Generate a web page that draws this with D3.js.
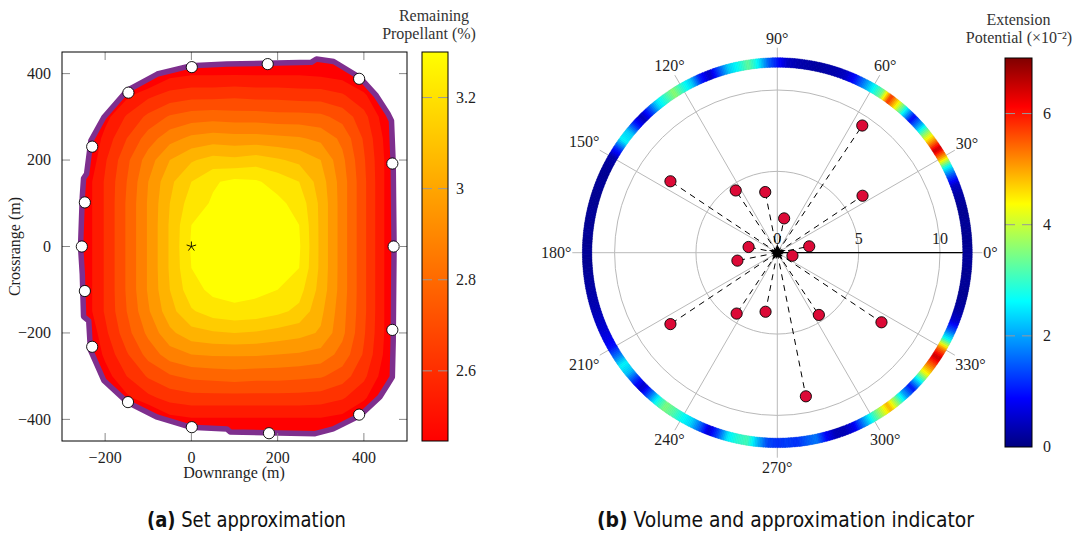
<!DOCTYPE html>
<html>
<head>
<meta charset="utf-8">
<script src="https://cdn.jsdelivr.net/npm/d3@7"></script>
<style>
  html, body { margin: 0; padding: 0; background: #fff; }
  svg { display: block; }
  text { font-family: "Liberation Serif", "Times New Roman", serif; fill: #1e1e1e; }
  .cap { font-family: "Liberation Sans Narrow", "DejaVu Sans Condensed", "Liberation Sans", sans-serif; fill: #111; }
</style>
</head>
<body>
<svg id="fig" width="1086" height="535"></svg>
<script>
// ---------------- panel (a): reachable set, remaining propellant ----------------
const gridX = [-300, -250, -200, -150, -100, -50, 0, 50, 100, 150, 200, 250, 300, 350, 400, 450, 500];
const gridY = [450, 400, 350, 300, 250, 200, 150, 100, 50, 0, -50, -100, -150, -200, -250, -300, -350, -400, -450];
// remaining propellant (%) on the grid, one row per gridY value
const propellant = [
  [2.40,2.40,2.40,2.40,2.40,2.40,2.40,2.40,2.40,2.40,2.40,2.40,2.40,2.40,2.40,2.40,2.40],
  [2.40,2.40,2.40,2.40,2.40,2.50,2.52,2.52,2.52,2.52,2.52,2.52,2.51,2.49,2.40,2.40,2.40],
  [2.40,2.40,2.40,2.51,2.59,2.64,2.66,2.66,2.67,2.66,2.66,2.65,2.65,2.62,2.55,2.40,2.40],
  [2.40,2.40,2.50,2.62,2.71,2.78,2.81,2.82,2.81,2.81,2.80,2.80,2.79,2.74,2.64,2.48,2.40],
  [2.40,2.40,2.56,2.69,2.81,2.90,2.95,2.97,2.96,2.96,2.95,2.94,2.91,2.83,2.68,2.51,2.40],
  [2.40,2.42,2.60,2.75,2.89,3.01,3.08,3.12,3.11,3.13,3.10,3.07,3.01,2.87,2.70,2.52,2.40],
  [2.40,2.47,2.62,2.77,2.93,3.07,3.17,3.24,3.27,3.26,3.22,3.17,3.05,2.89,2.71,2.52,2.40],
  [2.40,2.47,2.62,2.78,2.94,3.09,3.21,3.26,3.29,3.29,3.27,3.22,3.07,2.89,2.71,2.52,2.40],
  [2.40,2.47,2.62,2.78,2.94,3.10,3.25,3.29,3.30,3.30,3.29,3.25,3.07,2.89,2.71,2.52,2.40],
  [2.40,2.47,2.62,2.78,2.94,3.10,3.26,3.29,3.30,3.30,3.29,3.26,3.07,2.89,2.71,2.52,2.40],
  [2.40,2.47,2.62,2.78,2.94,3.10,3.25,3.29,3.30,3.30,3.28,3.25,3.07,2.89,2.71,2.52,2.40],
  [2.40,2.47,2.62,2.78,2.94,3.09,3.22,3.27,3.28,3.27,3.25,3.20,3.06,2.89,2.71,2.52,2.40],
  [2.40,2.47,2.62,2.77,2.92,3.06,3.16,3.21,3.23,3.22,3.19,3.15,3.03,2.88,2.71,2.52,2.40],
  [2.40,2.42,2.59,2.74,2.87,2.99,3.06,3.08,3.09,3.08,3.06,3.04,3.00,2.87,2.70,2.52,2.40],
  [2.40,2.40,2.55,2.68,2.80,2.89,2.93,2.94,2.94,2.94,2.93,2.92,2.90,2.82,2.68,2.51,2.40],
  [2.40,2.40,2.49,2.61,2.70,2.76,2.79,2.80,2.81,2.80,2.80,2.79,2.78,2.73,2.63,2.48,2.40],
  [2.40,2.40,2.40,2.51,2.59,2.64,2.66,2.66,2.66,2.66,2.66,2.66,2.65,2.62,2.55,2.40,2.40],
  [2.40,2.40,2.40,2.40,2.40,2.50,2.52,2.52,2.52,2.52,2.52,2.52,2.52,2.50,2.40,2.40,2.40],
  [2.40,2.40,2.40,2.40,2.40,2.40,2.40,2.40,2.40,2.40,2.40,2.40,2.40,2.40,2.40,2.40,2.40]
];
const propLevels = [2.45, 2.53, 2.61, 2.69, 2.77, 2.85, 2.93, 3.01, 3.09, 3.17, 3.25];
// boundary of the reachable set (downrange, crossrange) in metres
const reachBoundary = [
  [-257,0],[-253,114],[-250,158],[-243,168],[-233,245],[-203,299],[-149,361],[-79,399],
  [-2,418],[82,422],[278,426],[290,434],[330,428],[391,391],[429,349],[456,307],[464,291],
  [468,191],[470,0],[468,-217],[466,-302],[456,-318],[437,-348],[391,-391],[329,-422],
  [287,-433],[90,-429],[82,-422],[-2,-418],[-79,-395],[-149,-360],[-203,-310],[-234,-240],
  [-238,-172],[-250,-162],[-253,-63]
];
// vertices of the set approximation
const approxX = [1, 177, 389, 466, 469, 466, 389, 180, 1, -147, -230, -247, -254, -247, -230, -146];
const approxY = [415, 422, 388, 192, 0, -193, -389, -432, -418, -360, -232, -103, 0, 102, 231, 356];
const nominalPoint = [0, 0];
const axisTicksX = [-200, 0, 200, 400];
const axisTicksY = [-400, -200, 0, 200, 400];
const propTicks = [2.6, 2.8, 3.0, 3.2];
const propTickLabels = ["2.6", "2.8", "3", "3.2"];
const propRange = [2.446, 3.30];

// ---------------- panel (b): polar volume / extension indicator ----------------
const ringAngles = [
  0,3,6,9,12,15,18,21,24,27,30,33,36,39,42,45,48,51,54,57,
  60,63,66,69,72,75,78,81,84,87,90,93,96,99,102,105,108,111,114,117,
  120,123,126,129,132,135,138,141,144,147,150,153,156,159,162,165,168,171,174,177,
  180,183,186,189,192,195,198,201,204,207,210,213,216,219,222,225,228,231,234,237,
  240,243,246,249,252,255,258,261,264,267,270,273,276,279,282,285,288,291,294,297,
  300,303,306,309,312,315,318,321,324,327,330,333,336,339,342,345,348,351,354,357
];
// extension potential (x 10^-2) around the boundary
const ringValues = [
  0.2,0.15,0.15,0.2,0.15,0.2,0.3,0.5,1.4,2.7,4.9,6.5,5.0,3.6,2.0,0.9,2.5,4.3,5.8,3.4,
  2.6,1.8,1.0,0.5,0.35,0.3,0.25,0.3,0.35,0.5,1.0,1.6,2.6,3.3,2.7,2.3,1.4,0.5,1.1,2.3,
  2.9,3.6,3.0,2.4,1.3,0.4,1.1,2.3,2.6,1.2,0.3,0.2,0.15,0.2,0.15,0.15,0.2,0.15,0.2,0.15,
  0.2,0.15,0.2,0.25,0.3,0.35,0.4,0.5,0.6,0.75,1.0,1.7,2.6,2.2,1.2,0.5,1.5,2.7,3.5,3.2,
  2.7,2.4,1.6,0.6,1.4,2.5,2.9,3.1,2.2,1.4,1.2,1.3,1.2,1.5,1.7,0.9,0.4,0.4,0.8,1.8,
  2.8,3.8,4.9,3.5,2.0,1.0,2.5,4.3,5.4,6.5,5.2,2.8,1.5,0.6,0.3,0.2,0.15,0.2,0.15,0.2
];
const ringInner = 11.4, ringOuter = 11.98;
const dotAngles = [11.25, 33.75, 56.25, 78.75, 101.25, 123.75, 146.25, 168.75,
                   191.25, 213.75, 236.25, 258.75, 281.25, 303.75, 326.25, 348.75];
const dotRadii  = [2.0, 6.3, 9.4, 2.15, 3.8, 4.6, 7.9, 1.8,
                   2.5, 7.9, 4.5, 3.7, 9.0, 4.6, 7.7, 0.95];
const angleTicks = [0, 30, 60, 90, 120, 150, 180, 210, 240, 270, 300, 330];
const radialTicks = [0, 5, 10];
const extTicks = [0, 2, 4, 6];
const extRange = [0, 7];

// =====================================================================
const svg = d3.select("#fig");
const defs = svg.append("defs");
const gridGrey = "#b9b9b9";
const FS = 16;

// ---------- panel (a) ----------
const xA = d3.scaleLinear([-300, 500], [62, 407]);
const yA = d3.scaleLinear([-450, 450], [441, 52]);
const boundaryLine = d3.line().x(d => xA(d[0])).y(d => yA(d[1])).curve(d3.curveLinearClosed);

defs.append("clipPath").attr("id", "clipA").append("rect")
  .attr("x", xA.range()[0]).attr("y", yA.range()[1])
  .attr("width", xA.range()[1] - xA.range()[0]).attr("height", yA.range()[0] - yA.range()[1]);
defs.append("clipPath").attr("id", "clipReach").append("path").attr("d", boundaryLine(reachBoundary));

const bandColor = i => d3.interpolateRgb("#ff0000", "#ffff00")(i / (propLevels.length - 1));
const nx = gridX.length, ny = gridY.length;
const contours = d3.contours().size([nx, ny]).thresholds(propLevels)(propellant.flat());
const ix = d3.scaleLinear([0, nx - 1], [gridX[0], gridX[nx - 1]]);
const iy = d3.scaleLinear([0, ny - 1], [gridY[0], gridY[ny - 1]]);
const gridProj = d3.geoTransform({
  point(x, y) { this.stream.point(xA(ix(x - 0.5)), yA(iy(y - 0.5))); }
});
const contourPath = d3.geoPath(gridProj);

const gA = svg.append("g").attr("clip-path", "url(#clipA)");
const gFill = gA.append("g").attr("clip-path", "url(#clipReach)");
gFill.append("path").attr("d", boundaryLine(reachBoundary)).attr("fill", bandColor(0));
gFill.selectAll("path.band").data(contours).join("path")
  .attr("class", "band").attr("d", contourPath).attr("fill", (d, i) => bandColor(i));

gA.append("path").attr("d", boundaryLine(reachBoundary))
  .attr("fill", "none").attr("stroke", "#7e2f8e").attr("stroke-width", 5.5)
  .attr("stroke-linejoin", "round");

gA.selectAll("circle.vtx").data(approxX.map((x, i) => [x, approxY[i]])).join("circle")
  .attr("class", "vtx").attr("cx", d => xA(d[0])).attr("cy", d => yA(d[1])).attr("r", 5.6)
  .attr("fill", "#fff").attr("stroke", "#000").attr("stroke-width", 0.9);

// nominal point: five-armed star mark
{
  const [sx, sy] = [xA(nominalPoint[0]), yA(nominalPoint[1])];
  const arms = d3.range(5).map(k => (90 + 72 * k) * Math.PI / 180);
  gA.selectAll("line.star").data(arms).join("line").attr("class", "star")
    .attr("x1", sx).attr("y1", sy)
    .attr("x2", a => sx + 5 * Math.cos(a)).attr("y2", a => sy - 5 * Math.sin(a))
    .attr("stroke", "#000").attr("stroke-width", 0.9);
}

// frame + inward ticks
const tickLen = 8, tickCol = "#8a8a8a";
const axA = svg.append("g");
axA.selectAll("line.xt").data(axisTicksX.flatMap(v => [[v, 0], [v, 1]])).join("line")
  .attr("x1", d => xA(d[0])).attr("x2", d => xA(d[0]))
  .attr("y1", d => d[1] ? yA.range()[1] : yA.range()[0])
  .attr("y2", d => d[1] ? yA.range()[1] + tickLen : yA.range()[0] - tickLen)
  .attr("stroke", tickCol).attr("stroke-width", 1);
axA.selectAll("line.yt").data(axisTicksY.flatMap(v => [[v, 0], [v, 1]])).join("line")
  .attr("y1", d => yA(d[0])).attr("y2", d => yA(d[0]))
  .attr("x1", d => d[1] ? xA.range()[1] : xA.range()[0])
  .attr("x2", d => d[1] ? xA.range()[1] - tickLen : xA.range()[0] + tickLen)
  .attr("stroke", tickCol).attr("stroke-width", 1);
axA.append("rect").attr("x", 62).attr("y", 52).attr("width", 345).attr("height", 389)
  .attr("fill", "none").attr("stroke", "#000").attr("stroke-width", 1);

const fmt = v => (v < 0 ? "\u2212" + Math.abs(v) : String(v));
axA.selectAll("text.xl").data(axisTicksX).join("text")
  .attr("x", d => xA(d)).attr("y", 463).attr("text-anchor", "middle")
  .attr("font-size", FS).text(fmt);
axA.selectAll("text.yl").data(axisTicksY).join("text")
  .attr("x", 51).attr("y", d => yA(d)).attr("dy", "0.34em").attr("text-anchor", "end")
  .attr("font-size", FS).text(fmt);
axA.append("text").attr("x", 234).attr("y", 478).attr("text-anchor", "middle")
  .attr("font-size", FS).text("Downrange (m)");
axA.append("text").attr("transform", "translate(20,246.5) rotate(-90)")
  .attr("text-anchor", "middle").attr("font-size", FS).text("Crossrange (m)");

// colour bar (a)
const cbA = { x: 422, w: 26 };
const yCbA = d3.scaleLinear(propRange, [441, 52]);
const gradA = defs.append("linearGradient").attr("id", "gradA")
  .attr("x1", 0).attr("y1", 1).attr("x2", 0).attr("y2", 0);
gradA.append("stop").attr("offset", 0).attr("stop-color", "#ff0000");
gradA.append("stop").attr("offset", 1).attr("stop-color", "#ffff00");
const gCbA = svg.append("g");
gCbA.append("rect").attr("x", cbA.x).attr("y", yCbA(propRange[1])).attr("width", cbA.w)
  .attr("height", yCbA(propRange[0]) - yCbA(propRange[1])).attr("fill", "url(#gradA)");
gCbA.selectAll("line.t").data(propTicks.flatMap(v => [[v, 0], [v, 1]])).join("line")
  .attr("y1", d => yCbA(d[0])).attr("y2", d => yCbA(d[0]))
  .attr("x1", d => d[1] ? cbA.x + cbA.w : cbA.x)
  .attr("x2", d => d[1] ? cbA.x + cbA.w - 10 : cbA.x + 10)
  .attr("stroke", "#999").attr("stroke-width", 1);
gCbA.append("rect").attr("x", cbA.x).attr("y", yCbA(propRange[1])).attr("width", cbA.w)
  .attr("height", yCbA(propRange[0]) - yCbA(propRange[1]))
  .attr("fill", "none").attr("stroke", "#000").attr("stroke-width", 1);
gCbA.selectAll("text.tl").data(propTicks).join("text")
  .attr("x", 456).attr("y", d => yCbA(d)).attr("dy", "0.34em")
  .attr("font-size", FS).text((d, i) => propTickLabels[i]);
gCbA.append("text").attr("x", 434).attr("y", 20.5).attr("text-anchor", "middle")
  .attr("font-size", FS).style("fill", "#333").text("Remaining");
gCbA.append("text").attr("x", 429).attr("y", 39).attr("text-anchor", "middle")
  .attr("font-size", FS).style("fill", "#333").text("Propellant (%)");

// ---------- panel (b) ----------
const cx = 777.3, cy = 252.7;
const rB = d3.scaleLinear([0, 10], [0, 162.7]);
const rad = a => a * Math.PI / 180;
const pt = (a, r) => [cx + r * Math.cos(rad(a)), cy - r * Math.sin(rad(a))];
const jet = d3.scaleLinear()
  .domain([0, 1, 3, 5, 7, 8].map(k => extRange[0] + (extRange[1] - extRange[0]) * k / 8))
  .range(["#000080", "#0000ff", "#00ffff", "#ffff00", "#ff0000", "#800000"]).clamp(true);

const gB = svg.append("g");
const gridOuter = 205;
gB.selectAll("circle.rg").data(radialTicks.filter(v => v > 0)).join("circle")
  .attr("cx", cx).attr("cy", cy).attr("r", d => rB(d))
  .attr("fill", "none").attr("stroke", gridGrey).attr("stroke-width", 1);
gB.selectAll("line.ag").data(angleTicks).join("line")
  .attr("x1", cx).attr("y1", cy)
  .attr("x2", a => pt(a, gridOuter)[0]).attr("y2", a => pt(a, gridOuter)[1])
  .attr("stroke", gridGrey).attr("stroke-width", 1);

// coloured ring: shaded between neighbouring readings
const ringArc = d3.arc().innerRadius(rB(ringInner)).outerRadius(rB(ringOuter));
const sub = 6;
const ringSegs = [];
ringAngles.forEach((a, i) => {
  const step = (ringAngles[1] - ringAngles[0]);
  const v0 = ringValues[i], v1 = ringValues[(i + 1) % ringValues.length];
  for (let s = 0; s < sub; s++) {
    const f = (s + 0.5) / sub;
    const a0 = a + step * s / sub, a1 = a + step * (s + 1) / sub;
    ringSegs.push({ a0, a1, v: v0 + (v1 - v0) * f });
  }
});
gB.append("g").attr("transform", `translate(${cx},${cy})`)
  .selectAll("path").data(ringSegs).join("path")
  .attr("d", d => ringArc({ startAngle: rad(90 - d.a1 - 0.08), endAngle: rad(90 - d.a0 + 0.08) }))
  .attr("fill", d => jet(d.v))
  .attr("stroke", d => d3.color(jet(d.v)).darker(0.35)).attr("stroke-width", 0.35);

// angular tick labels, anchored on the side facing the centre
const labR = 206;
gB.selectAll("text.al").data(angleTicks).join("text")
  .attr("class", "al").attr("font-size", FS).text(a => a + "\u00b0")
  .each(function (a) {
    const bb = this.getBBox();
    const c = Math.cos(rad(a)), s = Math.sin(rad(a));
    const t = Math.min(Math.abs(c) > 1e-6 ? (bb.width / 2) / Math.abs(c) : Infinity,
                       Math.abs(s) > 1e-6 ? (bb.height / 2) / Math.abs(s) : Infinity);
    const [px, py] = pt(a, labR);
    const ccx = px + t * c, ccy = py - t * s;
    d3.select(this).attr("x", ccx - bb.width / 2 - bb.x).attr("y", ccy - bb.height / 2 - bb.y);
  });

// radial axis along 0 deg
gB.append("line").attr("x1", cx).attr("y1", cy).attr("x2", pt(0, rB(ringInner))[0]).attr("y2", cy)
  .attr("stroke", "#000").attr("stroke-width", 1.3);
gB.selectAll("text.rl").data(radialTicks).join("text")
  .attr("x", d => cx + rB(d)).attr("y", cy - 9).attr("text-anchor", "middle")
  .attr("font-size", FS).text(d => d);

// dashed spokes and markers
const dots = dotAngles.map((a, i) => ({ a, r: dotRadii[i] }));
gB.selectAll("line.sp").data(dots).join("line")
  .attr("x1", cx).attr("y1", cy)
  .attr("x2", d => pt(d.a, rB(d.r))[0]).attr("y2", d => pt(d.a, rB(d.r))[1])
  .attr("stroke", "#000").attr("stroke-width", 1).attr("stroke-dasharray", "6,5");
gB.append("path").attr("transform", `translate(${cx},${cy})`)
  .attr("d", d3.symbol(d3.symbolStar, 90)()).attr("fill", "#000");
gB.append("circle").attr("cx", cx).attr("cy", cy).attr("r", 4.5).attr("fill", "#000");
gB.selectAll("circle.dot").data(dots).join("circle")
  .attr("cx", d => pt(d.a, rB(d.r))[0]).attr("cy", d => pt(d.a, rB(d.r))[1]).attr("r", 5.6)
  .attr("fill", "#dc0a37").attr("stroke", "#000").attr("stroke-width", 0.9);

// colour bar (b)
const cbB = { x: 1005, w: 27 };
const yCbB = d3.scaleLinear(extRange, [447, 58]);
const gradB = defs.append("linearGradient").attr("id", "gradB")
  .attr("x1", 0).attr("y1", 1).attr("x2", 0).attr("y2", 0);
jet.domain().forEach((v, i) => gradB.append("stop")
  .attr("offset", (v - extRange[0]) / (extRange[1] - extRange[0])).attr("stop-color", jet.range()[i]));
const gCbB = svg.append("g");
gCbB.append("rect").attr("x", cbB.x).attr("y", yCbB(extRange[1])).attr("width", cbB.w)
  .attr("height", yCbB(extRange[0]) - yCbB(extRange[1])).attr("fill", "url(#gradB)");
gCbB.selectAll("line.t").data(extTicks.filter(v => v > extRange[0]).flatMap(v => [[v, 0], [v, 1]])).join("line")
  .attr("y1", d => yCbB(d[0])).attr("y2", d => yCbB(d[0]))
  .attr("x1", d => d[1] ? cbB.x + cbB.w : cbB.x)
  .attr("x2", d => d[1] ? cbB.x + cbB.w - 10 : cbB.x + 10)
  .attr("stroke", "#999").attr("stroke-width", 1);
gCbB.append("rect").attr("x", cbB.x).attr("y", yCbB(extRange[1])).attr("width", cbB.w)
  .attr("height", yCbB(extRange[0]) - yCbB(extRange[1]))
  .attr("fill", "none").attr("stroke", "#000").attr("stroke-width", 1);
gCbB.selectAll("text.tl").data(extTicks).join("text")
  .attr("x", 1043).attr("y", d => yCbB(d)).attr("dy", "0.34em")
  .attr("font-size", FS).text(d => d);
gCbB.append("text").attr("x", 1018.5).attr("y", 25).attr("text-anchor", "middle")
  .attr("font-size", FS).style("fill", "#333").text("Extension");
gCbB.append("text").attr("x", 1019).attr("y", 42.5).attr("text-anchor", "middle")
  .attr("font-size", FS).style("fill", "#333").text("Potential (\u00d710\u207b\u00b2)");

// ---------- captions ----------
const captions = [
  { x: 246.5, w: 199, tag: "(a)", txt: " Set approximation" },
  { x: 785.5, w: 377, tag: "(b)", txt: " Volume and approximation indicator" }
];
captions.forEach(c => {
  const t = svg.append("text").attr("class", "cap").attr("x", c.x).attr("y", 527)
    .attr("text-anchor", "middle").attr("font-size", 21)
    .attr("textLength", c.w).attr("lengthAdjust", "spacingAndGlyphs");
  t.append("tspan").attr("font-weight", "bold").text(c.tag);
  t.append("tspan").text(c.txt);
});
</script>
</body>
</html>
